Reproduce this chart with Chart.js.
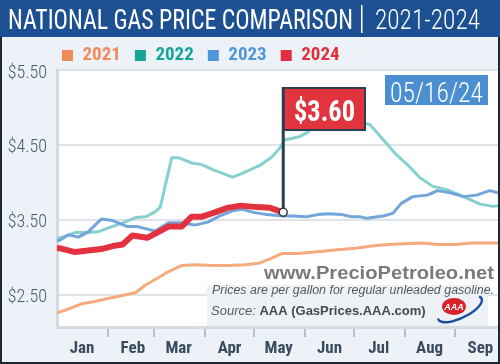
<!DOCTYPE html>
<html>
<head>
<meta charset="utf-8">
<style>
html,body{margin:0;padding:0;background:#edf2f8;}
#wrap{width:500px;height:364px;position:relative;overflow:hidden;}
canvas{display:block;}
</style>
<script src="https://cdn.jsdelivr.net/npm/chart.js@4.4.0/dist/chart.umd.min.js"></script>
</head>
<body>
<div id="wrap"><canvas id="c" width="500" height="364"></canvas></div>
<script>
// ---- data ----
const seriesLabels = ['2021', '2022', '2023', '2024'];
const monthLabels = ['Jan', 'Feb', 'Mar', 'Apr', 'May', 'Jun', 'Jul', 'Aug', 'Sep'];
const monthStartDays = [0, 31, 59, 90, 120, 151, 181, 212, 243];
const yTickValues = [2.5, 3.5, 4.5, 5.5];

const days2021 = [0, 7, 15, 23, 31, 40, 48, 54, 62, 68, 76, 84, 95, 104, 115, 123, 131, 137, 147, 162, 171, 182, 192, 202, 212, 223, 232, 243, 253, 263, 269];
const prices2021 = [2.26, 2.31, 2.38, 2.41, 2.45, 2.49, 2.53, 2.63, 2.73, 2.81, 2.89, 2.90, 2.89, 2.89, 2.90, 2.92, 2.99, 3.05, 3.05, 3.08, 3.10, 3.12, 3.15, 3.17, 3.18, 3.19, 3.17, 3.17, 3.19, 3.19, 3.19];

const days2022 = [0, 2, 11, 19, 25, 31, 40, 48, 54, 60, 63, 70, 74, 82, 88, 95, 107, 113, 124, 131, 136, 139, 148, 153, 160, 165, 172, 181, 188, 191, 199, 207, 215, 221, 229, 238, 248, 258, 266, 269];
const prices2022 = [3.25, 3.26, 3.33, 3.33, 3.34, 3.39, 3.46, 3.53, 3.54, 3.61, 3.67, 4.33, 4.33, 4.26, 4.24, 4.17, 4.07, 4.12, 4.23, 4.34, 4.46, 4.57, 4.61, 4.67, 4.86, 5.01, 4.98, 4.85, 4.79, 4.77, 4.57, 4.37, 4.21, 4.07, 3.95, 3.90, 3.81, 3.71, 3.68, 3.69];

const days2023 = [0, 2, 7, 13, 19, 27, 34, 43, 49, 60, 68, 76, 84, 92, 99, 107, 113, 120, 128, 138, 144, 152, 159, 165, 174, 180, 185, 189, 199, 205, 210, 217, 226, 232, 240, 248, 256, 264, 269];
const prices2023 = [3.22, 3.23, 3.30, 3.27, 3.34, 3.51, 3.49, 3.41, 3.41, 3.35, 3.46, 3.46, 3.43, 3.47, 3.55, 3.62, 3.64, 3.60, 3.57, 3.55, 3.55, 3.54, 3.57, 3.58, 3.57, 3.54, 3.54, 3.52, 3.55, 3.59, 3.72, 3.81, 3.83, 3.89, 3.86, 3.81, 3.83, 3.89, 3.86];

const days2024 = [0, 2, 11, 19, 27, 34, 40, 46, 55, 62, 68, 76, 82, 88, 95, 104, 112, 122, 130, 138];
const prices2024 = [3.12, 3.12, 3.07, 3.09, 3.11, 3.15, 3.17, 3.29, 3.26, 3.34, 3.41, 3.41, 3.54, 3.54, 3.59, 3.66, 3.69, 3.67, 3.66, 3.60];

const titleMain = 'NATIONAL GAS PRICE COMPARISON';
const titleYears = '2021-2024';
const latestDate = '05/16/24';
const siteText = 'www.PrecioPetroleo.net';
const noteText = 'Prices are per gallon for regular unleaded gasoline.';
const sourceLead = 'Source: ';
const sourceText = 'AAA (GasPrices.AAA.com)';

// ---- styles ----
const NARROW = '"Roboto Condensed","DejaVu Sans Condensed",sans-serif';
const lineColors = ['#f6ab7e', '#86d0d0', '#72a5da', '#e2323f'];
const legendColors = ['#f08a5b', '#14a596', '#4f97d6', '#e0303d'];
const lineWidths = [3, 3, 3, 6];

function pts(d, v) { return d.map((x, i) => ({ x: x, y: v[i] })); }
const allDays = [days2021, days2022, days2023, days2024];
const allPrices = [prices2021, prices2022, prices2023, prices2024];

function fitText(ctx, text, x, y, w) {
  const m = ctx.measureText(text).width;
  ctx.save();
  ctx.translate(x, y);
  ctx.scale(w / m, 1);
  ctx.textAlign = 'left';
  ctx.fillText(text, 0, 0);
  ctx.restore();
}

const decor = {
  id: 'decor',
  afterLayout(chart) {
    if (chart.legend) { chart.legend.left = 48; }
  },
  beforeDraw(chart) {
    const ctx = chart.ctx, a = chart.chartArea;
    ctx.save();
    ctx.fillStyle = '#edf2f8';
    ctx.fillRect(0, 0, chart.width, chart.height);
    ctx.fillStyle = '#ffffff';
    ctx.fillRect(a.left, a.top, a.right - a.left, a.bottom - a.top);
    ctx.fillStyle = '#1c5093';
    ctx.fillRect(0, 0, chart.width, 37);
    ctx.fillStyle = '#ffffff';
    ctx.textBaseline = 'alphabetic';
    ctx.font = '28px ' + NARROW;
    fitText(ctx, titleMain, 8, 28.5, 345);
    ctx.fillRect(361, 5, 1.5, 28);
    ctx.font = '300 28px ' + NARROW;
    fitText(ctx, titleYears, 375, 28.5, 105);
    ctx.restore();
  },
  beforeDatasetsDraw(chart) {
    const ctx = chart.ctx;
    ctx.save();
    ctx.fillStyle = '#eef2f7';
    ctx.fillRect(207, 285, 281, 41);
    ctx.textBaseline = 'alphabetic';
    ctx.fillStyle = '#7a7a7a';
    ctx.font = 'bold 18px "Liberation Sans",Arial,sans-serif';
    fitText(ctx, siteText, 264, 279, 230);
    ctx.fillStyle = '#555a60';
    ctx.font = 'italic 12px "Liberation Sans",Arial,sans-serif';
    fitText(ctx, noteText, 212, 294, 282);
    ctx.font = 'italic 13px "Liberation Sans",Arial,sans-serif';
    ctx.fillText(sourceLead, 211, 315);
    const lw = ctx.measureText(sourceLead).width;
    ctx.font = 'bold 13px "Liberation Sans",Arial,sans-serif';
    ctx.fillStyle = '#454a50';
    ctx.fillText(sourceText, 211 + lw, 315);
    // AAA logo
    ctx.strokeStyle = '#1f4d9c';
    ctx.lineWidth = 2.4;
    ctx.lineCap = 'round';
    ctx.beginPath();
    ctx.ellipse(460, 309, 24, 9, -0.45, -0.25, Math.PI * 1.0);
    ctx.stroke();
    ctx.fillStyle = '#d8232f';
    ctx.beginPath();
    ctx.ellipse(454, 306.5, 12, 8.5, 0, 0, Math.PI * 2);
    ctx.fill();
    ctx.fillStyle = '#ffffff';
    ctx.font = 'bold italic 9px "Liberation Sans",Arial,sans-serif';
    ctx.textAlign = 'center';
    ctx.fillText('AAA', 454, 310);
    ctx.restore();
  },
  afterDatasetsDraw(chart) {
    const ctx = chart.ctx;
    const meta = chart.getDatasetMeta(3);
    const last = meta.data[meta.data.length - 1];
    const px = last.x, py = last.y;
    const lastVal = prices2024[prices2024.length - 1];
    ctx.save();
    ctx.fillStyle = '#e2343f';
    ctx.fillRect(px, 88, 365 - px, 42);
    ctx.strokeStyle = '#2c3e50';
    ctx.lineWidth = 2;
    ctx.strokeRect(px, 88, 365 - px, 42);
    ctx.lineWidth = 3;
    ctx.beginPath();
    ctx.moveTo(px, 87);
    ctx.lineTo(px, py);
    ctx.stroke();
    ctx.fillStyle = '#ffffff';
    ctx.font = 'bold 30px ' + NARROW;
    ctx.textBaseline = 'alphabetic';
    fitText(ctx, '$' + lastVal.toFixed(2), 294, 121, 61);
    ctx.beginPath();
    ctx.arc(px, py, 4, 0, Math.PI * 2);
    ctx.fillStyle = '#ffffff';
    ctx.fill();
    ctx.lineWidth = 1.5;
    ctx.strokeStyle = '#2c3e50';
    ctx.stroke();
    // date box
    ctx.fillStyle = '#4b8fd0';
    ctx.fillRect(385, 75, 103, 30);
    ctx.fillStyle = '#ffffff';
    ctx.font = '300 28px ' + NARROW;
    fitText(ctx, latestDate, 390, 102, 93);
    ctx.restore();
  },
  afterDraw(chart) {
    const ctx = chart.ctx;
    ctx.save();
    ctx.fillStyle = '#1e2833';
    ctx.fillRect(0, 37, 2, chart.height - 37);
    ctx.fillRect(chart.width - 2, 37, 2, chart.height - 37);
    ctx.fillRect(0, chart.height - 2, chart.width, 2);
    ctx.restore();
  }
};

const datasets = seriesLabels.map((lab, i) => ({
  label: lab,
  data: pts(allDays[i], allPrices[i]),
  borderColor: lineColors[i],
  backgroundColor: lineColors[i],
  borderWidth: lineWidths[i],
  pointRadius: 0,
  tension: 0,
  borderJoinStyle: 'round',
  borderCapStyle: 'round',
  fill: false,
  order: 3 - i
}));

new Chart(document.getElementById('c'), {
  type: 'line',
  data: { datasets: datasets },
  options: {
    responsive: false,
    animation: false,
    devicePixelRatio: 1,
    events: [],
    layout: { padding: { left: 0, top: 32, right: 2, bottom: 0 } },
    plugins: {
      title: { display: false },
      tooltip: { enabled: false },
      legend: {
        position: 'top',
        align: 'start',
        maxHeight: 38,
        labels: {
          font: { family: NARROW, size: 19, weight: 'bold' },
          padding: 14,
          boxWidth: 11,
          boxHeight: 11,
          useBorderRadius: true,
          borderRadius: 2,
          generateLabels: () => seriesLabels.map((t, i) => ({
            text: t,
            fillStyle: legendColors[i],
            strokeStyle: legendColors[i],
            lineWidth: 0,
            fontColor: legendColors[i],
            hidden: false,
            datasetIndex: i
          }))
        }
      }
    },
    scales: {
      x: {
        type: 'linear',
        min: 0,
        max: 269,
        afterBuildTicks: ax => { ax.ticks = monthStartDays.map(v => ({ value: v })); },
        afterFit: ax => { ax.height = 37; },
        grid: {
          drawOnChartArea: false,
          drawTicks: true,
          tickLength: 10,
          lineWidth: 2,
          color: c => (c.index === 0 ? 'rgba(0,0,0,0)' : '#b8bfc8')
        },
        border: { display: true, color: '#d6dbe2', width: 3 },
        ticks: {
          autoSkip: false,
          maxRotation: 0,
          padding: 2,
          labelOffset: 25,
          color: '#3b4b5d',
          font: { family: NARROW, size: 17, weight: 'bold' },
          callback: (v, i) => monthLabels[i]
        }
      },
      y: {
        type: 'linear',
        min: 2.07,
        max: 5.5,
        afterBuildTicks: ax => { ax.ticks = yTickValues.map(v => ({ value: v })); },
        afterFit: ax => { ax.width = 57; },
        grid: { color: '#dfe3ea', lineWidth: 2, drawTicks: false },
        border: { display: true, color: '#d6dbe2', width: 3 },
        ticks: {
          padding: 10,
          labelOffset: 3,
          color: '#4d5968',
          font: { family: NARROW, size: 18, weight: 300 },
          callback: v => '$' + Number(v).toFixed(2)
        }
      }
    }
  },
  plugins: [decor]
});
</script>
</body>
</html>
